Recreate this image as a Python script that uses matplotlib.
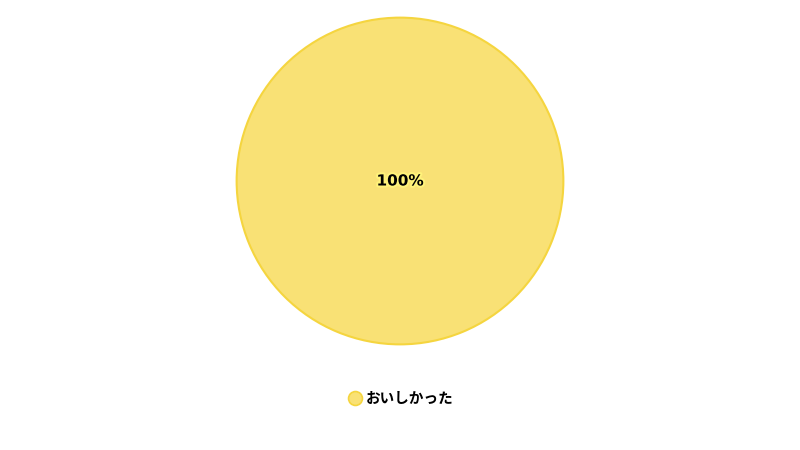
import matplotlib.pyplot as plt
import matplotlib.patheffects as pe
from matplotlib.lines import Line2D

plt.rcParams['font.family'] = ['Noto Sans CJK JP', 'DejaVu Sans']

labels = ["おいしかった"]
values = [100]
colors = ["#F9E175"]
edge = "#F5D53F"

fig = plt.figure(figsize=(8, 4.5), dpi=100)
ax = fig.add_axes([235 / 800, (450 - 346) / 450, 330 / 800, 330 / 450])

wedges, _ = ax.pie(values, colors=colors, startangle=90, counterclock=False,
                   wedgeprops=dict(edgecolor=edge, linewidth=1.5))
ax.set_xlim(-1.01, 1.01)
ax.set_ylim(-1.01, 1.01)
ax.set_aspect('equal')

total = sum(values)
for v in values:
    ax.text(0, 0, f"{v / total * 100:.0f}%", ha='center', va='center',
            fontsize=11, fontweight='bold', color='black', family='DejaVu Sans',
            path_effects=[pe.withStroke(linewidth=3, foreground='#FFF27A')])

handles = [Line2D([0], [0], marker='o', linestyle='none', markersize=10,
                  markerfacecolor=c, markeredgecolor=edge, markeredgewidth=1.2)
           for c in colors]
fig.legend(handles, labels, loc='center', bbox_to_anchor=(0.5, 1 - 398 / 450),
           frameon=False, prop=dict(size=10.5, weight='bold'),
           handletextpad=0.1, handlelength=1.2)

fig.savefig("out.png", dpi=100)
